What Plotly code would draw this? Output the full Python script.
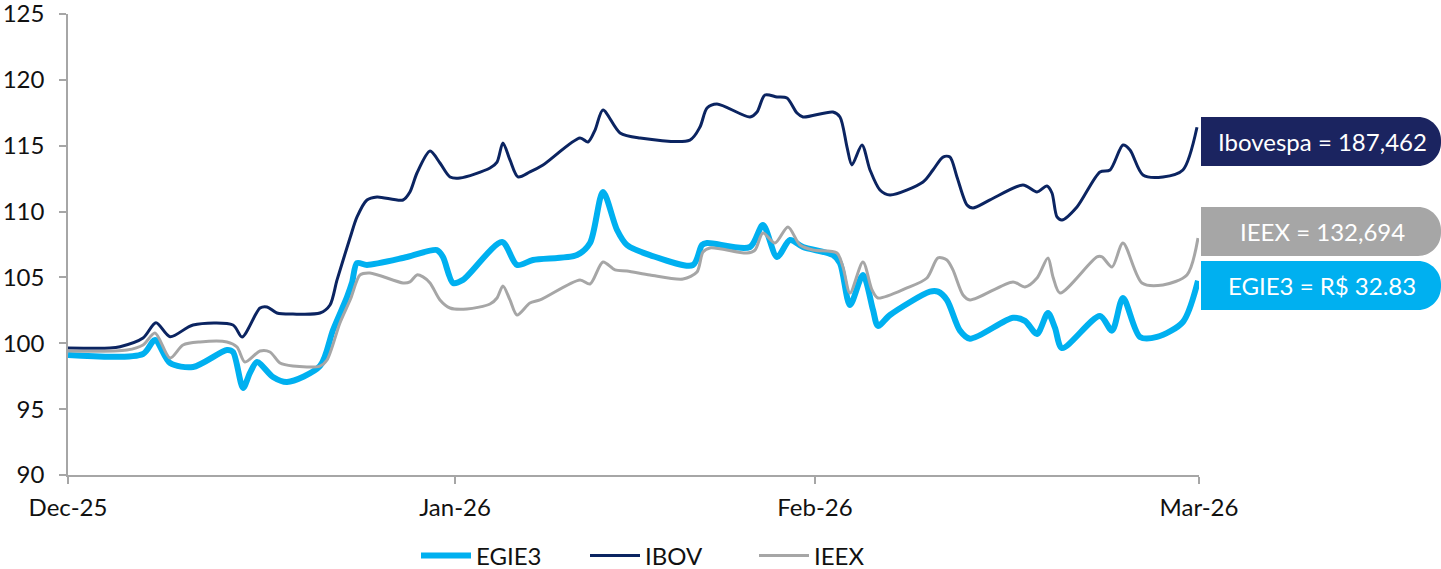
import plotly.graph_objects as go

# ---- data (x = position on the Dec-25 .. Mar-26 timeline, in day units) ----
tick_pos = [0, 30.8, 59.44, 90]
tick_text = ["Dec-25", "Jan-26", "Feb-26", "Mar-26"]
y_ticks = [90, 95, 100, 105, 110, 115, 120, 125]

egie_t = [0, 5.97, 6.92, 8.12, 9.95, 12.65, 13.13, 13.93, 14.48, 15.04, 16.31, 17.43, 20.05, 21.09, 22.2, 22.6,
          23.0, 23.79, 26.98, 29.36, 29.84, 30.64, 31.43, 34.54, 35.73, 37.0, 40.5, 41.54, 42.57, 43.69, 44.48,
          46.31, 49.73, 50.45, 50.85, 54.27, 55.3, 56.42, 57.45, 58.49, 60.87, 61.43, 62.23, 63.26, 64.06, 64.45,
          65.41, 68.59, 69.23, 69.94, 70.98, 71.78, 75.2, 76.15, 77.11, 77.98, 78.54, 79.1, 82.12, 83.08, 83.95,
          85.3, 86.66, 88.72, 89.92]
egie_v = [99.11, 99.19, 100.25, 98.5, 98.2, 99.49, 99.34, 96.61, 97.75, 98.58, 97.44, 97.06, 98.27, 101.01, 103.51,
          104.6, 106.09, 105.95, 106.55, 107.08, 106.55, 104.58, 104.81, 107.69, 105.95, 106.32, 106.7, 107.61,
          111.49, 108.6, 107.46, 106.7, 105.94, 107.46, 107.61, 107.31, 108.98, 106.55, 107.84, 107.31, 106.7,
          106.09, 102.91, 105.19, 102.53, 101.32, 102.15, 103.92, 103.92, 103.29, 100.96, 100.35, 101.94, 101.7,
          100.71, 102.3, 101.17, 99.64, 102.08, 100.96, 103.44, 100.48, 100.48, 101.62, 104.75]

ibov_t = [0, 3.34, 4.14, 5.97, 7.0, 8.12, 9.95, 13.13, 13.85, 15.28, 15.84, 16.63, 17.9, 20.05, 20.85, 21.41,
          22.44, 23.0, 23.79, 24.59, 26.66, 27.21, 27.77, 28.81, 29.6, 30.4, 31.19, 33.58, 34.14, 34.61, 35.17,
          35.81, 36.76, 37.8, 40.74, 41.38, 41.94, 42.57, 43.93, 45.52, 49.49, 50.29, 50.85, 51.64, 54.27, 54.83,
          55.46, 56.42, 57.21, 58.01, 58.49, 60.87, 61.43, 61.99, 62.38, 63.18, 63.82, 64.61, 65.41, 68.04, 68.83,
          69.63, 70.18, 70.74, 71.54, 72.01, 73.37, 75.99, 77.11, 77.9, 78.3, 78.7, 79.1, 80.29, 82.12, 82.92,
          83.95, 84.51, 85.54, 87.13, 88.72, 89.84]
ibov_v = [99.64, 99.64, 99.74, 100.4, 101.56, 100.5, 101.39, 101.39, 100.48, 102.68, 102.76, 102.3, 102.22, 102.3,
          102.91, 104.81, 107.99, 109.59, 110.88, 111.11, 110.88, 111.49, 112.93, 114.6, 113.69, 112.63, 112.55,
          113.31, 113.76, 115.21, 113.92, 112.63, 113.01, 113.54, 115.59, 115.28, 116.19, 117.71, 115.97, 115.59,
          115.43, 116.42, 117.86, 118.17, 117.18, 117.56, 118.85, 118.7, 118.62, 117.48, 117.18, 117.56, 117.18,
          114.9, 113.54, 115.05, 113.16, 111.64, 111.26, 112.25, 113.16, 114.14, 114.14, 112.63, 110.5, 110.27,
          110.88, 112.02, 111.49, 111.94, 111.41, 109.59, 109.36, 110.35, 113.01, 113.16, 115.05, 114.68, 112.78,
          112.63, 113.16, 116.4]

ieex_t = [0, 4.69, 5.97, 6.92, 8.12, 9.15, 10.5, 12.65, 13.45, 14.08, 15.28, 16.07, 16.87, 17.9, 20.05, 20.61,
          21.64, 22.5, 23.24, 24.03, 26.66, 27.21, 27.77, 28.25, 28.81, 29.6, 30.4, 31.75, 33.58, 34.14, 34.61,
          35.17, 35.73, 36.76, 37.56, 40.74, 41.54, 42.57, 43.53, 44.48, 46.31, 48.94, 50.05, 50.53, 51.09, 54.03,
          54.67, 55.3, 56.26, 57.29, 58.25, 59.28, 61.19, 61.67, 62.23, 63.26, 63.98, 64.45, 66.76, 68.35, 69.23,
          69.94, 70.42, 71.22, 71.78, 75.2, 76.15, 77.11, 77.98, 78.38, 78.94, 81.88, 82.28, 83.08, 83.95, 85.46,
          87.13, 89.04, 89.92]
ieex_v = [99.41, 99.49, 99.87, 100.78, 98.88, 99.87, 100.1, 100.1, 99.72, 98.58, 99.41, 99.34, 98.5, 98.27, 98.27,
          98.73, 101.54, 103.4, 105.19, 105.34, 104.58, 104.66, 105.19, 105.04, 104.58, 103.29, 102.68, 102.6,
          102.98, 103.44, 104.35, 103.29, 102.15, 103.06, 103.29, 104.81, 104.5, 106.17, 105.57, 105.49, 105.19,
          104.88, 105.41, 106.93, 107.24, 106.85, 107.08, 108.37, 107.61, 108.83, 107.46, 107.08, 106.85, 105.79,
          103.82, 106.17, 104.05, 103.44, 104.2, 104.96, 106.48, 106.33, 105.57, 103.67, 103.29, 104.66, 104.28,
          104.96, 106.48, 105.04, 103.82, 106.56, 106.56, 105.79, 107.61, 104.58, 104.43, 105.19, 107.99]

tag_texts = ["Ibovespa = 187,462", "IEEX = 132,694", "EGIE3 = R$ 32.83"]

# ---- styling ----
C_EGIE = "#00B0F0"
C_IBOV = "#0B2461"
C_IEEX = "#A6A6A6"
C_TAG_IBOV = "#1B2460"
FONT = "Lato"
TXT = "#111111"

W, H = 1441, 569
ML, MT = 68, 14
PW, PH = 1131, 461
MR, MB = W - ML - PW, H - MT - PH

fig = go.Figure()
fig.add_trace(go.Scatter(x=egie_t, y=egie_v, mode="lines", name="EGIE3",
                         line=dict(color=C_EGIE, width=6, shape="spline", smoothing=0.8)))
fig.add_trace(go.Scatter(x=ibov_t, y=ibov_v, mode="lines", name="IBOV",
                         line=dict(color=C_IBOV, width=3, shape="spline", smoothing=0.8)))
fig.add_trace(go.Scatter(x=ieex_t, y=ieex_v, mode="lines", name="IEEX",
                         line=dict(color=C_IEEX, width=3, shape="spline", smoothing=0.8)))


# helpers take page-pixel positions and turn them into paper coordinates
def px2paper_x(px):
    return (px - ML) / PW


def px2paper_y(py):
    return (MT + PH - py) / PH


def tag_path(x0, x1, y0, y1, r):
    # square left side, rounded right side
    X0, X1, XR = px2paper_x(x0), px2paper_x(x1), px2paper_x(x1 - r)
    YT, YB = px2paper_y(y0), px2paper_y(y1)
    YTR, YBR = px2paper_y(y0 + r), px2paper_y(y1 - r)
    k = 0.55
    XC = px2paper_x(x1 - r + r * k)
    YTC = px2paper_y(y0 + r - r * k)
    YBC = px2paper_y(y1 - r + r * k)
    return (f"M{X0},{YT} L{XR},{YT} C{XC},{YT} {X1},{YTC} {X1},{YTR} "
            f"L{X1},{YBR} C{X1},{YBC} {XC},{YB} {XR},{YB} L{X0},{YB} Z")


tags = [
    (117, 166, C_TAG_IBOV),
    (207, 256, C_IEEX),
    (261, 310, C_EGIE),
]
shapes = []
annotations = []
for (ytop, ybot, col), txt in zip(tags, tag_texts):
    shapes.append(dict(type="path", xref="paper", yref="paper",
                       path=tag_path(1201, 1441, ytop, ybot, 23),
                       fillcolor=col, line=dict(width=0), layer="above"))
    annotations.append(dict(xref="paper", yref="paper", x=px2paper_x(1322),
                            y=px2paper_y((ytop + ybot) / 2), text=txt, showarrow=False,
                            xanchor="center", yanchor="middle",
                            font=dict(family=FONT, size=24, color="white")))

fig.update_layout(
    width=W, height=H, autosize=False,
    margin=dict(l=ML, r=MR, t=MT, b=MB, pad=0, autoexpand=False),
    paper_bgcolor="white", plot_bgcolor="white",
    font=dict(family=FONT, size=24, color=TXT),
    showlegend=True,
    legend=dict(orientation="h", x=px2paper_x(416), xanchor="left", y=px2paper_y(556), yanchor="middle",
                font=dict(family=FONT, size=24, color=TXT), entrywidth=104, itemwidth=50,
                bgcolor="rgba(0,0,0,0)"),
    shapes=shapes, annotations=annotations,
    xaxis=dict(range=[0, 90], tickvals=tick_pos, ticktext=tick_text, showgrid=False, zeroline=False,
               automargin=False,
               showline=True, linecolor="#A6A6A6", linewidth=1.5, ticks="outside", ticklen=7,
               tickcolor="#A6A6A6", tickwidth=1.5, ticklabelstandoff=3,
               tickfont=dict(family=FONT, size=24, color=TXT)),
    yaxis=dict(range=[90, 125], tickvals=y_ticks, showgrid=False, zeroline=False,
               automargin=False, ticklabeloverflow="allow",
               showline=True, linecolor="#A6A6A6", linewidth=1.5, ticks="outside", ticklen=7,
               tickcolor="#A6A6A6", tickwidth=1.5, ticklabelstandoff=10,
               tickfont=dict(family=FONT, size=24, color=TXT)),
)

# remove the browser's default 8px body margin so the figure sits at the page corner
fig.write_html("out.html", config={"displayModeBar": False},
               post_script="document.body.style.margin='0px';")
